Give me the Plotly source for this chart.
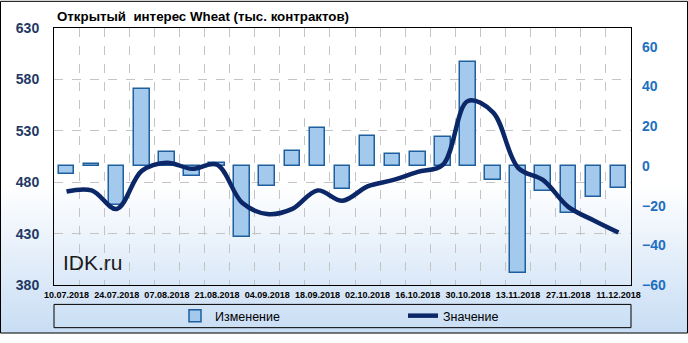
import base64
import plotly.graph_objects as go

# ---------------- data ----------------
dates = ["10.07.2018", "17.07.2018", "24.07.2018", "31.07.2018", "07.08.2018",
         "14.08.2018", "21.08.2018", "28.08.2018", "04.09.2018", "11.09.2018",
         "18.09.2018", "25.09.2018", "02.10.2018", "09.10.2018", "16.10.2018",
         "23.10.2018", "30.10.2018", "06.11.2018", "13.11.2018", "20.11.2018",
         "27.11.2018", "04.12.2018", "11.12.2018"]
change = [-4, 1, -19.5, 39, 7, -5, 1.3, -36, -10, 7.3, 19, -11.4, 15, 6.2, 6.8,
          14.7, 52.4, -7, -54, -12.7, -23.6, -15.5, -10.9]
value = [471, 472, 454, 491, 499, 493, 497, 460, 449, 454, 472, 462, 476, 482,
         490, 497, 559, 548, 494, 482, 456, 443, 431]
left_ticks = [380, 430, 480, 530, 580, 630]
right_ticks = [-60, -40, -20, 0, 20, 40, 60]
title = "Открытый\u00a0 интерес Wheat (тыс. контрактов)"

x_idx = list(range(len(dates)))
label_idx = x_idx[::2]
label_txt = dates[::2]

# ---------------- geometry helpers (figure pixels -> paper) ----------------
W, H = 688, 343
ML, MR, MT, MB = 54, 57, 28, 50
PW, PH = W - ML - MR, H - MT - MB


def px(p):
    return (p - ML) / PW


def py(p):
    return (H - MB - p) / PH


svg = ('<svg xmlns="http://www.w3.org/2000/svg" width="10" height="100" '
       'preserveAspectRatio="none"><defs><linearGradient id="g" x1="0" y1="0" '
       'x2="0" y2="1"><stop offset="0" stop-color="#ffffff"/>'
       '<stop offset="0.55" stop-color="#ffffff"/>'
       '<stop offset="1" stop-color="#c8ddf4"/></linearGradient></defs>'
       '<rect width="10" height="100" fill="url(#g)"/></svg>')
bg_src = "data:image/svg+xml;base64," + base64.b64encode(svg.encode()).decode()

fig = go.Figure()

fig.add_trace(go.Bar(
    x=x_idx, y=change, name="Изменение", yaxis="y", width=0.62,
    marker=dict(color="#a3c9ec", line=dict(color="#1f5f9e", width=1.5)),
))
fig.add_trace(go.Scatter(
    x=x_idx, y=value, name="Значение", yaxis="y2", mode="lines",
    line=dict(color="#0b2768", width=4.5, shape="spline", smoothing=1.0),
))

fig.update_layout(
    width=W, height=H,
    margin=dict(l=ML, r=MR, t=MT, b=MB, pad=0),
    paper_bgcolor="rgba(0,0,0,0)",
    plot_bgcolor="rgba(0,0,0,0)",
    font=dict(family="Liberation Sans, Arial, sans-serif", color="#000000"),
    showlegend=True,
    bargap=0,
    xaxis=dict(
        type="linear", range=[-0.5, len(dates) - 0.5],
        tickvals=label_idx, ticktext=label_txt, ticks="",
        tickfont=dict(size=9, family="Liberation Sans, Arial", color="#000000",
                      weight="bold"),
        ticklabelstandoff=1,
        showgrid=False, zeroline=False,
        showline=True, linecolor="#000000", linewidth=1, mirror=True,
        minor=dict(tick0=0.5, dtick=1, showgrid=True, gridcolor="#c4c4c4",
                   griddash="dash", gridwidth=1),
    ),
    yaxis=dict(
        side="right", range=[-60, 69.5], tickvals=right_ticks,
        ticks="", ticklabelstandoff=10,
        tickfont=dict(size=14, color="#1e6fbf", weight="bold"),
        showgrid=False, zeroline=False, showline=False,
    ),
    yaxis2=dict(
        side="left", overlaying="y", range=[380, 630], tickvals=left_ticks,
        ticks="", ticklabelstandoff=11,
        tickfont=dict(size=14, color="#1f3864", weight="bold"),
        showgrid=True, gridcolor="#c4c4c4", griddash="dash", gridwidth=1,
        zeroline=False, showline=True, linecolor="#000000", linewidth=1,
        mirror=True,
    ),
    title=dict(
        text=title, x=px(57), xanchor="left", xref="paper",
        y=1 - 16 / H, yanchor="middle", yref="container",
        font=dict(size=13.3, color="#000000", weight="bold",
                  family="Liberation Sans, Arial"),
    ),
    legend=dict(
        orientation="h", x=px(175), xanchor="left", y=py(325), yanchor="middle",
        bgcolor="rgba(0,0,0,0)", borderwidth=0, entrywidth=183,
        font=dict(size=12.5, color="#000000"), traceorder="normal",
    ),
    images=[dict(
        source=bg_src, xref="paper", yref="paper",
        x=px(0), y=py(0), sizex=W / PW, sizey=H / PH,
        xanchor="left", yanchor="top", sizing="stretch", layer="below",
    )],
    shapes=[
        dict(type="rect", xref="paper", yref="paper",
             x0=px(0.5), x1=px(687.5), y0=py(342.5), y1=py(0.5),
             line=dict(color="#000000", width=1), fillcolor="rgba(0,0,0,0)",
             layer="above"),
        dict(type="rect", xref="paper", yref="paper",
             x0=px(54), x1=px(631), y0=py(337), y1=py(313),
             line=dict(color="#000000", width=1), fillcolor="rgba(0,0,0,0)",
             layer="above"),
    ],
    annotations=[dict(
        text="IDK.ru", xref="paper", yref="paper", x=px(61), y=py(270),
        xanchor="left", yanchor="middle", showarrow=False,
        font=dict(size=21, color="#1a1a1a", family="Liberation Sans, Arial"),
    )],
)

fig.write_html("out.html")
